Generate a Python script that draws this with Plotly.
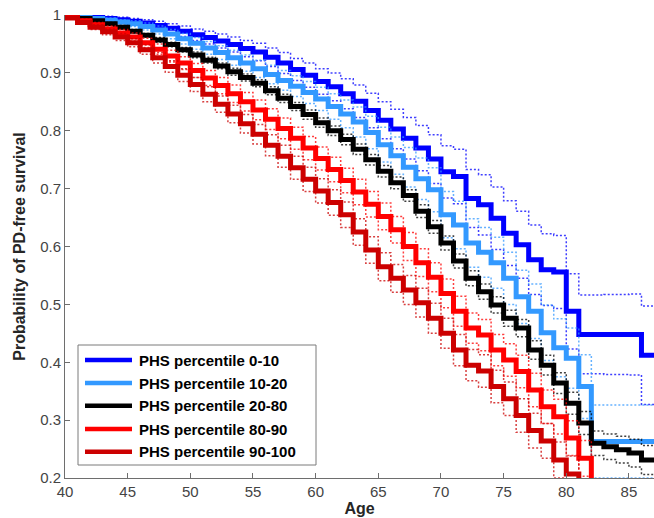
import plotly.graph_objects as go

# ---------------- data ----------------
AGES = list(range(40, 87))
X_END = 87

LABELS = ["PHS percentile 0-10", "PHS percentile 10-20", "PHS percentile 20-80",
          "PHS percentile 80-90", "PHS percentile 90-100"]
COLORS = ["#0000FF", "#3399FF", "#000000", "#FF0000", "#CC0000"]

surv_0_10 = [1.000, 0.998, 0.996, 0.994, 0.992, 0.989, 0.986, 0.982, 0.977, 0.972,
             0.966, 0.961, 0.955, 0.949, 0.942, 0.936, 0.927, 0.917, 0.906, 0.896,
             0.885, 0.876, 0.864, 0.851, 0.835, 0.818, 0.803, 0.787, 0.770, 0.751,
             0.729, 0.721, 0.683, 0.672, 0.649, 0.623, 0.603, 0.577, 0.560, 0.556,
             0.488, 0.448, 0.448, 0.448, 0.448, 0.448, 0.412]
surv_10_20 = [1.000, 0.997, 0.994, 0.991, 0.988, 0.985, 0.980, 0.974, 0.967, 0.959,
              0.951, 0.943, 0.935, 0.926, 0.917, 0.907, 0.897, 0.887, 0.877, 0.866,
              0.855, 0.842, 0.829, 0.815, 0.797, 0.776, 0.757, 0.737, 0.717, 0.698,
              0.655, 0.637, 0.606, 0.590, 0.572, 0.545, 0.513, 0.488, 0.451, 0.425,
              0.407, 0.358, 0.263, 0.263, 0.263, 0.263, 0.263]
surv_20_80 = [0.998, 0.994, 0.990, 0.985, 0.979, 0.972, 0.965, 0.957, 0.949, 0.940,
              0.931, 0.922, 0.912, 0.902, 0.892, 0.882, 0.869, 0.856, 0.842, 0.828,
              0.814, 0.800, 0.785, 0.768, 0.750, 0.730, 0.710, 0.688, 0.661, 0.634,
              0.606, 0.575, 0.545, 0.522, 0.499, 0.476, 0.459, 0.421, 0.395, 0.364,
              0.329, 0.295, 0.260, 0.254, 0.249, 0.243, 0.231]
surv_80_90 = [0.997, 0.990, 0.983, 0.976, 0.969, 0.962, 0.952, 0.941, 0.929, 0.917,
              0.904, 0.891, 0.878, 0.864, 0.850, 0.836, 0.820, 0.804, 0.787, 0.770,
              0.752, 0.733, 0.714, 0.694, 0.673, 0.652, 0.629, 0.600, 0.572, 0.547,
              0.519, 0.488, 0.459, 0.447, 0.421, 0.404, 0.384, 0.352, 0.323, 0.306,
              0.269, 0.234, 0.180]
surv_90_100 = [0.995, 0.987, 0.979, 0.971, 0.962, 0.952, 0.940, 0.926, 0.911, 0.896,
               0.880, 0.863, 0.846, 0.829, 0.812, 0.794, 0.775, 0.756, 0.736, 0.716,
               0.696, 0.676, 0.655, 0.625, 0.594, 0.565, 0.545, 0.525, 0.503, 0.476,
               0.450, 0.421, 0.395, 0.385, 0.358, 0.337, 0.308, 0.282, 0.264, 0.231,
               0.207, 0.180]

# confidence half-widths (dotted bounds) per age
ci_0_10 = [0.001, 0.002, 0.003, 0.004, 0.004, 0.005, 0.006, 0.007, 0.008, 0.009,
           0.010, 0.011, 0.012, 0.013, 0.014, 0.015, 0.016, 0.018, 0.019, 0.021,
           0.022, 0.024, 0.026, 0.028, 0.030, 0.032, 0.034, 0.036, 0.039, 0.042,
           0.045, 0.047, 0.050, 0.052, 0.054, 0.056, 0.058, 0.060, 0.062, 0.063,
           0.065, 0.068, 0.068, 0.069, 0.069, 0.070, 0.085]
ci_10_20 = [0.001, 0.002, 0.003, 0.004, 0.004, 0.005, 0.006, 0.007, 0.008, 0.009,
            0.010, 0.011, 0.012, 0.013, 0.014, 0.015, 0.016, 0.017, 0.018, 0.019,
            0.020, 0.022, 0.024, 0.026, 0.028, 0.030, 0.032, 0.034, 0.036, 0.038,
            0.040, 0.041, 0.042, 0.043, 0.044, 0.045, 0.046, 0.047, 0.048, 0.050,
            0.052, 0.055, 0.063, 0.063, 0.063, 0.063, 0.063]
ci_20_80 = [0.001, 0.001, 0.002, 0.002, 0.003, 0.003, 0.003, 0.004, 0.004, 0.004,
            0.005, 0.005, 0.005, 0.006, 0.006, 0.006, 0.007, 0.007, 0.007, 0.008,
            0.008, 0.008, 0.009, 0.009, 0.009, 0.010, 0.010, 0.010, 0.011, 0.011,
            0.012, 0.012, 0.013, 0.013, 0.014, 0.014, 0.015, 0.016, 0.017, 0.018,
            0.019, 0.020, 0.021, 0.022, 0.023, 0.024, 0.025]
ci_80_90 = [0.002, 0.003, 0.004, 0.005, 0.006, 0.007, 0.008, 0.009, 0.010, 0.011,
            0.012, 0.013, 0.014, 0.015, 0.016, 0.017, 0.018, 0.018, 0.019, 0.020,
            0.020, 0.021, 0.021, 0.022, 0.022, 0.023, 0.023, 0.024, 0.024, 0.025,
            0.025, 0.026, 0.026, 0.027, 0.027, 0.028, 0.028, 0.029, 0.029, 0.030,
            0.030, 0.031, 0.031]
ci_90_100 = [0.002, 0.003, 0.004, 0.005, 0.006, 0.007, 0.008, 0.009, 0.010, 0.011,
             0.012, 0.013, 0.014, 0.015, 0.016, 0.017, 0.018, 0.019, 0.020, 0.021,
             0.021, 0.022, 0.022, 0.023, 0.023, 0.024, 0.024, 0.025, 0.025, 0.026,
             0.026, 0.027, 0.027, 0.028, 0.028, 0.029, 0.029, 0.030, 0.030, 0.031,
             0.031, 0.032]

X_TICKS = [40, 45, 50, 55, 60, 65, 70, 75, 80, 85]
Y_TICKS = [0.2, 0.3, 0.4, 0.5, 0.6, 0.7, 0.8, 0.9, 1.0]
Y_TICK_TEXT = ["0.2", "0.3", "0.4", "0.5", "0.6", "0.7", "0.8", "0.9", "1"]

SERIES = [
    (surv_0_10, ci_0_10, True),
    (surv_10_20, ci_10_20, True),
    (surv_20_80, ci_20_80, True),
    (surv_80_90, ci_80_90, False),
    (surv_90_100, ci_90_100, False),
]

FONT = "Liberation Sans, Arial, Helvetica, sans-serif"

fig = go.Figure()


def step_xy(vals, extend):
    xs = AGES[:len(vals)]
    ys = list(vals)
    if extend:
        xs = xs + [X_END]
        ys = ys + [ys[-1]]
    return xs, ys


for (vals, ci, extend), color, label in zip(SERIES, COLORS, LABELS):
    xs, ys = step_xy(vals, extend)
    fig.add_trace(go.Scatter(x=xs, y=ys, mode="lines", name=label,
                             line=dict(color=color, width=5, shape="hv"),
                             showlegend=False))
    lo = [v - h for v, h in zip(vals, ci)]
    hi = [v + h for v, h in zip(vals, ci)]
    for b in (lo, hi):
        bx, by = step_xy(b, extend)
        fig.add_trace(go.Scatter(x=bx, y=by, mode="lines", hoverinfo="skip",
                                 line=dict(color=color, width=1.5, shape="hv",
                                           dash="2px,2px"),
                                 opacity=0.75, showlegend=False))

# custom legend (MATLAB style box)
W, H = 654, 518
ML, MR, MT, MB = 65, 0, 15, 40
PW, PH = W - ML - MR, H - MT - MB


def px(xp):
    return (xp - ML) / PW


def py(yp):
    return (H - MB - yp) / PH


fig.add_shape(type="rect", xref="paper", yref="paper",
              x0=px(78), x1=px(316), y0=py(465), y1=py(345),
              line=dict(color="#7a7a7a", width=1), fillcolor="white", layer="above")
rows = [360, 383, 405.7, 429, 451.7]
for yrow, color, label in zip(rows, COLORS, LABELS):
    fig.add_shape(type="line", xref="paper", yref="paper",
                  x0=px(85), x1=px(132), y0=py(yrow), y1=py(yrow),
                  line=dict(color=color, width=4.5), layer="above")
    fig.add_annotation(xref="paper", yref="paper", x=px(137), y=py(yrow),
                       text="<b>" + label + "</b>", showarrow=False,
                       xanchor="left", yanchor="middle",
                       font=dict(family=FONT, size=15, color="#000000"))

axis_common = dict(showgrid=False, zeroline=False, showline=True,
                   linecolor="#6e6e6e", linewidth=1, ticks="inside",
                   ticklen=5, tickcolor="#6e6e6e", mirror=False,
                   tickfont=dict(family=FONT, size=15, color="#444444"))

fig.update_layout(
    width=W, height=H,
    margin=dict(l=ML, r=MR, t=MT, b=MB, autoexpand=False),
    paper_bgcolor="white", plot_bgcolor="white",
    xaxis=dict(range=[40, X_END], tickvals=X_TICKS,
               title=dict(text="<b>Age</b>", standoff=2,
                          font=dict(family=FONT, size=16, color="#262626")),
               **axis_common),
    yaxis=dict(range=[0.2, 1.0], tickvals=Y_TICKS, ticktext=Y_TICK_TEXT,
               title=dict(text="<b>Probability of PD-free survival</b>", standoff=10,
                          font=dict(family=FONT, size=16, color="#262626")),
               **axis_common),
    showlegend=False,
)

fig.write_html("out.html", config={"displayModeBar": False})

# remove the browser's default page margin so the figure sits at (0, 0)
with open("out.html", "r", encoding="utf-8") as f:
    html = f.read()
html = html.replace("<head>", "<head><style>html,body{margin:0;padding:0;overflow:hidden;}</style>", 1)
with open("out.html", "w", encoding="utf-8") as f:
    f.write(html)
